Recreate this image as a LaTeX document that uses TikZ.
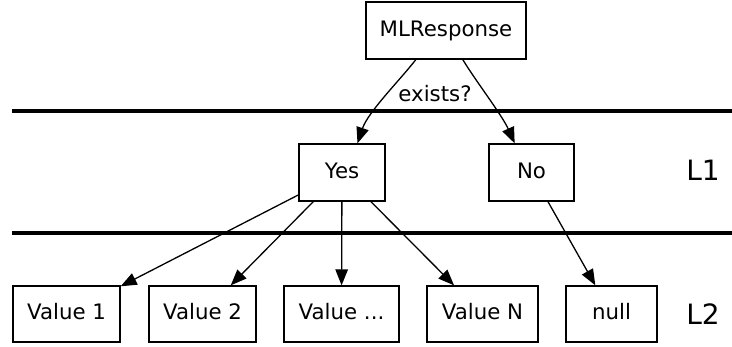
\documentclass[tikz,border=0pt]{standalone}
\usepackage{fontspec}
\setmainfont{DejaVu Sans}
\usetikzlibrary{arrows.meta}
\begin{document}
\begin{tikzpicture}[x=1pt,y=-1pt,
  box/.style={draw, line width=1.3pt, inner sep=0pt, minimum height=57pt,
    font=\fontsize{21.3}{25}\selectfont, text height=15.5pt, text depth=4.4pt},
  lvl/.style={font=\fontsize{28}{32}\selectfont, inner sep=0pt},
  edge/.style={line width=1.3pt, -{Triangle[length=16pt,width=12.5pt]}},
  rule/.style={line width=3.5pt}]
\useasboundingbox (0,0) rectangle (732,347);
\node[box, minimum width=160pt] (ml) at (446,30.5) {MLResponse};
\node[box, minimum width=86pt] (yes) at (342,172.5) {Yes};
\node[box, minimum width=85pt] (no) at (531.5,172.5) {No};
\node[box, minimum width=107pt, minimum height=56pt] (v1) at (66.5,314) {Value 1};
\node[box, minimum width=107pt, minimum height=56pt] (v2) at (202.5,314) {Value 2};
\node[box, minimum width=115pt, minimum height=56pt] (vd) at (341.5,314) {Value ...};
\node[box, minimum width=111pt, minimum height=56pt] (vn) at (482.5,314) {Value N};
\node[box, minimum width=91pt, minimum height=56pt] (nl) at (611.5,314) {null};
\node[lvl] (l1) at (703,170) {L1};
\node[lvl] (l2) at (703,314) {L2};
\node[font=\fontsize{21.3}{25}\selectfont, inner sep=0pt] (ex) at (435,94) {exists?};
\coordinate (r1a) at (12,111);
\coordinate (r1b) at (732,111);
\coordinate (r2a) at (12,233);
\coordinate (r2b) at (732,233);
\draw[rule] (r1a) -- (r1b);
\draw[rule] (r2a) -- (r2b);
\draw[edge] (ml.224.5) .. controls (400,80) and (368,112) .. (yes.62.2);
\draw[edge] (ml.300.8) .. controls (475,80) and (502,115) .. (no.120.1);
\draw[edge] (yes) -- (v1);
\draw[edge] (yes) -- (v2);
\draw[edge] (yes) -- (vd);
\draw[edge] (yes) -- (vn);
\draw[edge] (no) -- (nl);
\end{tikzpicture}
\end{document}
